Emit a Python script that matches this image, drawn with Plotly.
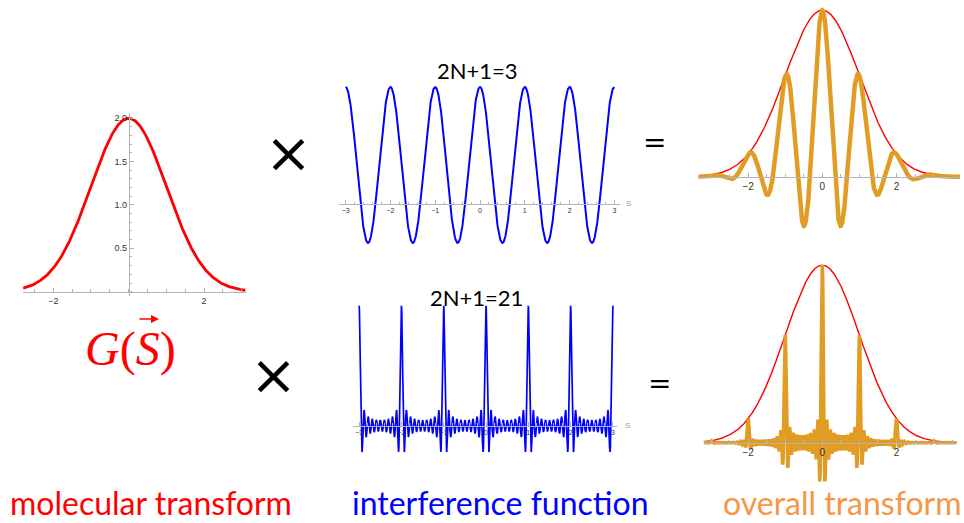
import numpy as np
import plotly.graph_objects as go

# ---------------- data ----------------
gauss_amplitude = 2.0          # peak of molecular transform G(S)
gauss_variance = 2.0           # G(S) = A * exp(-S^2 / variance)
n_values = [1, 10]             # 2N+1 = 3 and 2N+1 = 21
panel_titles = ["2N+1=3", "2N+1=21"]
left_xticks = [-2, 2]
left_yticks = [0.5, 1.0, 1.5, 2.0]
left_yticktext = ["0.5", "1.0", "1.5", "2.0"]
mid_xticks = [-3, -2, -1, 0, 1, 2, 3]
right_xticks = [-2, 0, 2]
bottom_labels = ["molecular transform", "interference function", "overall transform"]

# ---------------- functions ----------------
def G(s):
    return gauss_amplitude * np.exp(-s ** 2 / gauss_variance)

def interference(s, n):
    out = np.ones_like(s)
    for k in range(1, n + 1):
        out = out + 2 * np.cos(2 * np.pi * k * s)
    return out

W, H = 964, 523
def PX(x):
    return x / W
def PY(y):
    return 1 - y / H

RED = "#ff0000"
BLUE = "#0000ff"
ORANGE = "#e19c24"
AXC = "#b4b4b4"
TICKFONT = "Liberation Sans"

fig = go.Figure()

def add_x(name, domain, rng, pos, tickvals, fsize, minor_dt, labels=None):
    fig.layout[name] = dict(
        domain=domain, range=rng, anchor="free", position=pos,
        showline=True, linecolor=AXC, linewidth=1,
        ticks="inside", ticklen=4, tickcolor=AXC, tickwidth=1,
        tickmode="array", tickvals=tickvals,
        ticktext=labels if labels else [str(v).replace("-", "\u2212") for v in tickvals],
        tickfont=dict(family=TICKFONT, size=fsize, color="#333333"),
        showgrid=False, zeroline=False, fixedrange=True,
        minor=dict(ticks="inside", ticklen=2.5, tickcolor=AXC, tickmode="linear",
                   tick0=0, dtick=minor_dt, showgrid=False),
    )

def add_y(name, domain, rng, visible=False, pos=0, **kw):
    d = dict(domain=domain, range=rng, anchor="free", position=pos,
             visible=visible, showgrid=False, zeroline=False, fixedrange=True)
    d.update(kw)
    fig.layout[name] = d

# ---- left: molecular transform ----
xL = np.linspace(-2.8, 3.1, 600)
fig.add_trace(go.Scatter(x=xL, y=G(xL), mode="lines", line=dict(color=RED, width=2.8),
                         xaxis="x", yaxis="y", hoverinfo="skip"))
add_x("xaxis", [PX(23.1), PX(245.6)], [-2.8, 3.1], PY(291.7), left_xticks, 9, 0.5)
add_y("yaxis", [PY(296.0), PY(113.1)], [-0.05, 2.06], visible=True, pos=PX(128.7),
      showline=True, linecolor=AXC, linewidth=1, ticks="inside", ticklen=4, tickcolor=AXC,
      tickmode="array", tickvals=left_yticks, ticktext=left_yticktext,
      tickfont=dict(family=TICKFONT, size=9, color="#333333"),
      minor=dict(ticks="inside", ticklen=2.5, tickcolor=AXC, tickmode="linear",
                 tick0=0, dtick=0.1, showgrid=False))

# ---- top middle: interference N=1 ----
xM = np.linspace(-3, 3, 1500)
fig.add_trace(go.Scatter(x=xM, y=interference(xM, n_values[0]), mode="lines",
                         line=dict(color=BLUE, width=2), xaxis="x2", yaxis="y2", hoverinfo="skip"))
add_x("xaxis2", [PX(338.9), PX(620.2)], [-3.15, 3.13], PY(204), mid_xticks, 7, 0.2)
add_y("yaxis2", [PY(246.1), PY(83.9)], [-1.08, 3.08])

# ---- bottom middle: interference N=10 ----
xM2 = np.linspace(-3, 3, 6000)
fig.add_trace(go.Scatter(x=xM2, y=interference(xM2, n_values[1]), mode="lines",
                         line=dict(color=BLUE, width=1.7), xaxis="x3", yaxis="y3", hoverinfo="skip"))
add_x("xaxis3", [PX(353.2), PX(617.1)], [-3.14, 3.1], PY(425.7), mid_xticks, 7, 0.2)
add_y("yaxis3", [PY(454.3), PY(303.5)], [-5.0, 21.4])

# ---- top right: overall N=1 ----
xR = np.linspace(-3.34, 3.71, 2000)
fig.add_trace(go.Scatter(x=xR, y=G(xR), mode="lines", line=dict(color=RED, width=1.4),
                         xaxis="x4", yaxis="y4", hoverinfo="skip"))
fig.add_trace(go.Scatter(x=xR, y=G(xR) * interference(xR, n_values[0]) / (2 * n_values[0] + 1),
                         mode="lines", line=dict(color=ORANGE, width=4.5),
                         xaxis="x4", yaxis="y4", hoverinfo="skip"))
add_x("xaxis4", [PX(698.4), PX(960.0)], [-3.34, 3.71], PY(176.7), right_xticks, 10, 0.5)
add_y("yaxis4", [PY(231.7), PY(4.3)], [-0.66, 2.07])

# ---- bottom right: overall N=10 ----
xR2 = np.linspace(-3.2, 3.62, 9000)
fig.add_trace(go.Scatter(x=xR2, y=G(xR2), mode="lines", line=dict(color=RED, width=1.4),
                         xaxis="x5", yaxis="y5", hoverinfo="skip"))
fig.add_trace(go.Scatter(x=xR2, y=G(xR2) * interference(xR2, n_values[1]) / (2 * n_values[1] + 1),
                         mode="lines", line=dict(color=ORANGE, width=3.6),
                         xaxis="x5", yaxis="y5", hoverinfo="skip"))
add_x("xaxis5", [PX(703.6), PX(956.6)], [-3.2, 3.62], PY(442.7), right_xticks, 10, 0.5)
add_y("yaxis5", [PY(487.1), PY(259.8)], [-0.5, 2.06])

# ---------------- annotations ----------------
ann = []
def text(x, y, t, size, color="black", family="Lato", weight="normal"):
    ann.append(dict(x=PX(x), y=PY(y), xref="paper", yref="paper", text=t, showarrow=False,
                    font=dict(family=family, size=size, color=color, weight=weight),
                    xanchor="center", yanchor="middle"))

text(477, 70, panel_titles[0], 22)
text(476, 297, panel_titles[1], 22)
text(628, 203, "S", 8, "#999999", TICKFONT)
text(627, 425, "S", 8, "#999999", TICKFONT)
text(288, 152, "\u00d7", 56, "black", "DejaVu Sans")
text(273, 374, "\u00d7", 56, "black", "DejaVu Sans")
text(654, 142, "=", 28, "black", "DejaVu Sans")
text(659, 383, "=", 28, "black", "DejaVu Sans")
text(130, 349, "<i>G</i>(<i>S</i>)", 48, RED, "Liberation Serif")
text(151, 502, bottom_labels[0], 32, RED)
text(500, 502, bottom_labels[1], 32, BLUE)
text(842, 502, bottom_labels[2], 32, "#f79646")
# vector arrow over S
ann.append(dict(x=PX(159), y=PY(319), xref="paper", yref="paper", ax=-21, ay=0,
                text="", showarrow=True, arrowhead=2, arrowsize=1, arrowwidth=1.6,
                arrowcolor=RED))

fig.update_layout(
    width=W, height=H, margin=dict(l=0, r=0, t=0, b=0),
    paper_bgcolor="white", plot_bgcolor="rgba(0,0,0,0)",
    showlegend=False, annotations=ann,
)
fig.write_html("out.html", config={"displayModeBar": False})
